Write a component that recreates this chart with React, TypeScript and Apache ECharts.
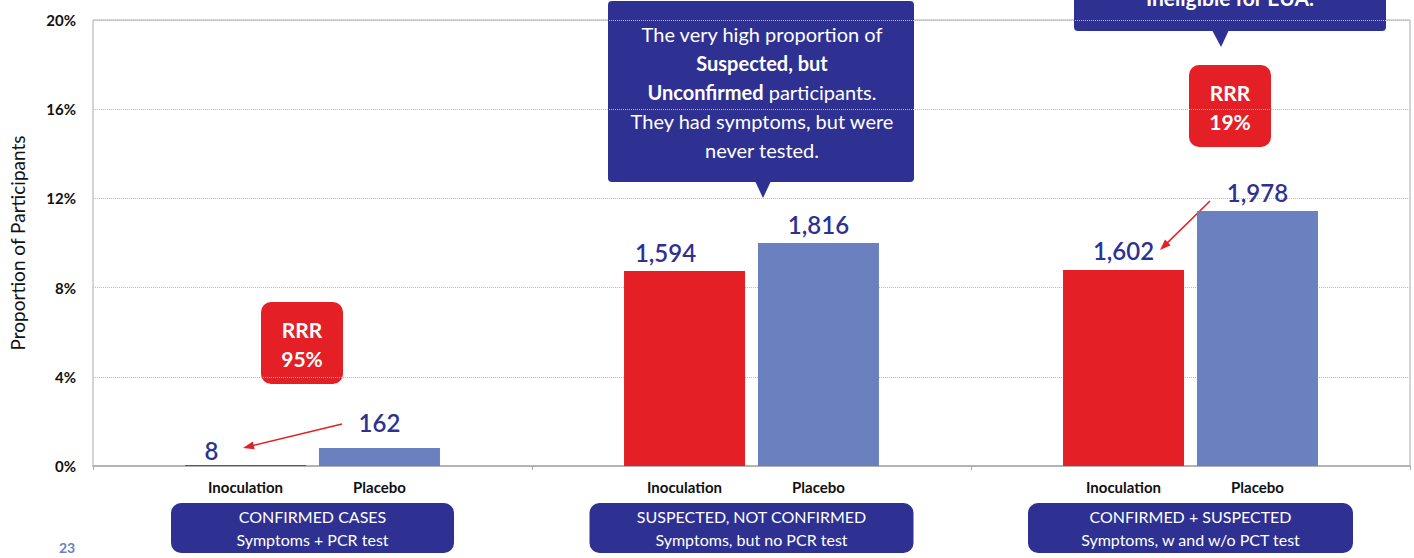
import React, { useEffect, useRef } from 'react';
import * as echarts from 'echarts';

// ---- data ----
const groupTitles = ['CONFIRMED CASES', 'SUSPECTED, NOT CONFIRMED', 'CONFIRMED + SUSPECTED'];
const groupSubtitles = ['Symptoms + PCR test', 'Symptoms, but no PCR test', 'Symptoms, w and w/o PCT test'];
const armNames = ['Inoculation', 'Placebo'];
const inoculationPct = [0.04, 8.74, 8.79];
const placeboPct = [0.81, 10.0, 11.43];
const inoculationCount = [8, 1594, 1602];
const placeboCount = [162, 1816, 1978];
const rrrValues = ['95%', '19%'];
const yMin = 0;
const yMax = 20;
const yStep = 4;

// ---- styles ----
const RED = '#e41f26';
const BLUE = '#6b80bf';
const NAVY = '#2e3192';
const FONT = 'Lato, "Noto Sans", sans-serif';
const boxWidths = [283, 324, 325];
const inocLabelShift = [[-34, 4], [-19, 0], [0, 0]];
const placeboLabelShift = [[0, -6], [0, 0], [0, 0]];

function arrow(x1: number, y1: number, x2: number, y2: number) {
  const dx = x2 - x1, dy = y2 - y1;
  const len = Math.sqrt(dx * dx + dy * dy);
  const ux = dx / len, uy = dy / len;
  const nx = -uy, ny = ux;
  const L = 11, W = 4;
  return [
    { type: 'line', shape: { x1, y1, x2: x2 - ux * L * 0.6, y2: y2 - uy * L * 0.6 }, style: { stroke: RED, lineWidth: 1.5 } },
    {
      type: 'polygon',
      shape: { points: [[x2, y2], [x2 - ux * L + nx * W, y2 - uy * L + ny * W], [x2 - ux * L - nx * W, y2 - uy * L - ny * W]] },
      style: { fill: RED },
    },
  ];
}

function rrrBox(x: number, y: number, value: string) {
  return [
    { type: 'rect', shape: { x, y, width: 82, height: 82, r: 10 }, style: { fill: RED } },
    {
      type: 'text', x: x + 41, y: y + 42,
      style: { text: 'RRR\n' + value, fill: '#fff', fontSize: 21, fontWeight: 'bold', fontFamily: FONT, lineHeight: 29, align: 'center', verticalAlign: 'middle' },
    },
  ];
}

export default function App() {
  const ref = useRef<HTMLDivElement>(null);
  useEffect(() => {
    if (!ref.current) return;
    const chart = echarts.init(ref.current, undefined, { renderer: 'svg' });
    const rich: any = {};
    boxWidths.forEach((w, i) => {
      rich['w' + i] = { width: w, align: 'center', color: '#fff', fontSize: 16, fontFamily: FONT, lineHeight: 23 };
    });
    chart.setOption({
      animation: false,
      backgroundColor: '#fff',
      grid: { left: 92, right: 4, top: 20, bottom: 92, show: true, borderColor: '#aaa', borderWidth: 1, containLabel: false },
      xAxis: [
        {
          type: 'category',
          data: groupTitles,
          axisLine: { show: true, lineStyle: { color: '#aaa', width: 1.5 } },
          axisTick: { show: true, length: 4, lineStyle: { color: '#aaa' } },
          splitLine: { show: false },
          axisLabel: {
            interval: 0,
            margin: 13,
            formatter: () => `{a|${armNames[0]}}{b|${armNames[1]}}`,
            rich: {
              a: { width: 134, align: 'center', fontSize: 15, fontWeight: 'bold', color: '#111', fontFamily: FONT },
              b: { width: 134, align: 'center', fontSize: 15, fontWeight: 'bold', color: '#111', fontFamily: FONT },
            },
          },
        },
        {
          type: 'category',
          data: groupTitles,
          position: 'bottom',
          axisLine: { show: false },
          axisTick: { show: false },
          splitLine: { show: false },
          axisLabel: {
            interval: 0,
            margin: 37,
            backgroundColor: NAVY,
            borderRadius: 10,
            padding: [2, 0, 2, 0],
            color: '#fff',
            fontSize: 16,
            lineHeight: 23,
            fontFamily: FONT,
            formatter: (_v: string, i: number) => `{w${i}|${groupTitles[i]}}\n{w${i}|${groupSubtitles[i]}}`,
            rich,
          },
        },
      ],
      yAxis: {
        type: 'value',
        min: yMin,
        max: yMax,
        interval: yStep,
        name: 'Proportion of Participants',
        nameLocation: 'middle',
        nameGap: 66,
        nameTextStyle: { fontSize: 19, color: '#111', fontFamily: FONT },
        axisLine: { show: false },
        axisTick: { show: false },
        axisLabel: { formatter: '{value}%', fontSize: 15, fontWeight: 'bold', color: '#111', fontFamily: FONT, margin: 17 },
        splitLine: { show: true, lineStyle: { color: '#bbb', type: 'dotted', width: 1 } },
      },
      series: [
        {
          name: armNames[0],
          type: 'bar',
          xAxisIndex: 0,
          barWidth: 121,
          barGap: '10.7%',
          itemStyle: { color: RED },
          data: inoculationPct.map((v, i) => ({
            value: v,
            label: { offset: inocLabelShift[i], formatter: inoculationCount[i].toLocaleString('en-US') },
          })),
          label: { show: true, position: 'top', distance: 7, fontSize: 24, fontWeight: 600, color: NAVY, fontFamily: FONT },
        },
        {
          name: armNames[1],
          type: 'bar',
          xAxisIndex: 0,
          barWidth: 121,
          barGap: '10.7%',
          itemStyle: { color: BLUE },
          data: placeboPct.map((v, i) => ({
            value: v,
            label: { offset: placeboLabelShift[i], formatter: placeboCount[i].toLocaleString('en-US') },
          })),
          label: { show: true, position: 'top', distance: 7, fontSize: 24, fontWeight: 600, color: NAVY, fontFamily: FONT },
        },
      ],
      graphic: [
        // middle callout
        { type: 'rect', shape: { x: 608, y: 1, width: 306, height: 181, r: 4 }, style: { fill: NAVY } },
        { type: 'polygon', shape: { points: [[755, 181], [771, 181], [763, 198]] }, style: { fill: NAVY } },
        {
          type: 'text', x: 762, y: 92,
          style: {
            text: '{n|The very high proportion of}\n{b|Suspected, but}\n{b|Unconfirmed}{n| participants.}\n{n|They had symptoms, but were}\n{n|never tested.}',
            align: 'center', verticalAlign: 'middle', fill: '#fff', fontSize: 20, fontFamily: FONT, lineHeight: 29,
            rich: {
              n: { fill: '#fff', color: '#fff', fontSize: 20, fontFamily: FONT, lineHeight: 29 },
              b: { fill: '#fff', color: '#fff', fontSize: 20, fontWeight: 'bold', fontFamily: FONT, lineHeight: 29 },
            },
          },
        },
        // top-right callout (cut off at the top edge, as in the source slide)
        { type: 'rect', shape: { x: 1074, y: -30, width: 312, height: 61, r: 4 }, style: { fill: NAVY } },
        { type: 'polygon', shape: { points: [[1212, 30], [1229, 30], [1221, 47]] }, style: { fill: NAVY } },
        {
          type: 'text', x: 1230, y: -3,
          style: { text: 'Ineligible for EUA.', fill: '#fff', fontSize: 21, fontWeight: 'bold', fontFamily: FONT, align: 'center', verticalAlign: 'middle' },
        },
        ...rrrBox(261, 302, rrrValues[0]),
        ...rrrBox(1189, 65, rrrValues[1]),
        ...arrow(342, 424, 243, 448),
        ...arrow(1210, 201, 1160, 250),
        {
          type: 'text', x: 67, y: 547,
          style: { text: '23', fill: BLUE, fontSize: 14, fontWeight: 'bold', fontFamily: FONT, align: 'center', verticalAlign: 'middle' },
        },
      ],
    });
    return () => chart.dispose();
  }, []);
  return <div ref={ref} style={{ position: 'fixed', left: 0, top: 0, width: 1414, height: 558 }} />;
}
